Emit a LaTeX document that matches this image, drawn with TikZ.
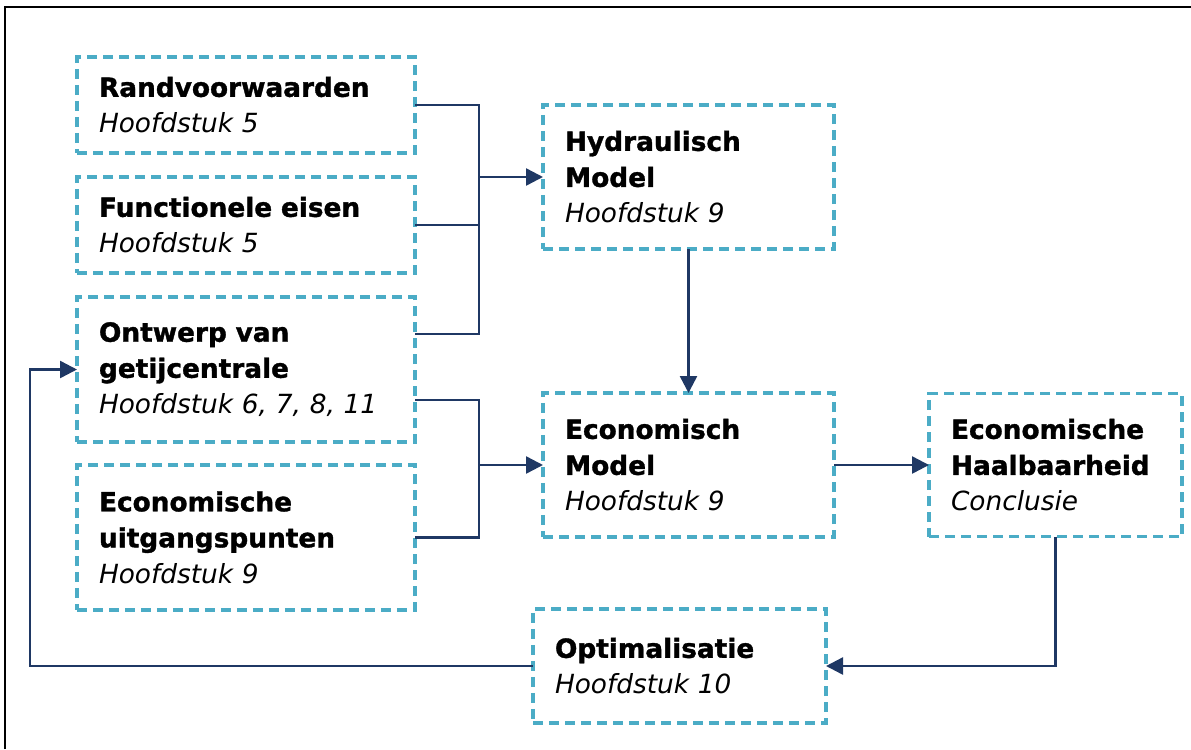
\documentclass[tikz,border=0pt]{standalone}
\usepackage{fontspec}
\setmainfont{DejaVu Sans}[BoldFeatures={FakeBold=1.3}]
\usepackage{tikz}
\usetikzlibrary{positioning, arrows.meta}
\usepackage{xcolor}
\definecolor{boxblue}{HTML}{4BACC6}
\definecolor{linknavy}{HTML}{1F3864}

\begin{document}
\begin{tikzpicture}[node distance=0.48cm and 2.56cm, auto]
        % Styles
        \tikzstyle{block} = [rectangle, draw=boxblue, line width=2pt, dash pattern=on 0.2cm off 0.12cm, align=left, inner xsep=0.44cm, inner ysep=0.1cm, outer sep=0pt, font=\fontsize{15pt}{20.5pt}\selectfont]
        \tikzstyle{wide} = [block, text width=5.88cm]
        \tikzstyle{mid} = [block, text width=4.94cm, minimum height=2.88cm]
        \tikzstyle{line} = [linknavy, line width=1.4pt]
        \tikzstyle{arrow} = [line, -{Triangle[length=0.34cm, width=0.34cm]}]
        \tikzstyle{frame} = [black, line width=1.4pt]

        \useasboundingbox (0,0) rectangle (23.82,-14.98);
        \draw [frame] (0.1,-14.98) |- (23.82,-0.14);

        % Nodes
        \node (rand) [wide, minimum height=1.92cm, anchor=north west] at (1.54,-1.14) {\textbf{Randvoorwaarden}\\\textit{Hoofdstuk 5}};
        \node (func) [wide, minimum height=1.92cm, below=of rand] {\textbf{Functionele eisen}\\\textit{Hoofdstuk 5}};
        \node (ontwerp) [wide, minimum height=2.9cm, below=of func] {\textbf{Ontwerp van}\\\textbf{getijcentrale}\\\textit{Hoofdstuk 6, 7, 8, 11}};
        \node (uitgang) [wide, minimum height=2.9cm, below=0.46cm of ontwerp] {\textbf{Economische}\\\textbf{uitgangspunten}\\\textit{Hoofdstuk 9}};
        \node (hydro) [mid, right=of rand.north east, anchor=north west, yshift=-0.96cm] {\textbf{Hydraulisch}\\\textbf{Model}\\\textit{Hoofdstuk 9}\\[0.1cm]};
        \node (econ) [mid, below=2.88cm of hydro] {\textbf{Economisch}\\\textbf{Model}\\\textit{Hoofdstuk 9}\\[0.1cm]};
        \node (haal) [block, text width=4.18cm, minimum height=2.86cm, right=1.9cm of econ] {\textbf{Economische}\\\textbf{Haalbaarheid}\\\textit{Conclusie}\\[0.1cm]};
        \node (optim) [block, text width=4.98cm, minimum height=2.28cm, below=1.44cm of econ, xshift=-0.18cm] {\textbf{Optimalisatie}\\\textit{Hoofdstuk 10}\\[0.1cm]};

        \coordinate (jtop) at ([xshift=1.28cm]rand.east);
        \coordinate (jbot) at ([xshift=1.28cm]uitgang.east);
        \coordinate (back) at ([xshift=-0.94cm]ontwerp.west);

        % Paths
        \draw [line] (rand.east) -- (jtop) |- ([yshift=0.71cm]ontwerp.east);
        \draw [line] (func.east) -- (func.east -| jtop);
        \draw [arrow] (jtop |- hydro.west) -- (hydro.west);
        \draw [line] ([yshift=-0.61cm]ontwerp.east) -| (jbot) -- (uitgang.east);
        \draw [arrow] (jbot |- econ.west) -- (econ.west);
        \draw [arrow] (hydro) -- (econ);
        \draw [arrow] (econ) -- (haal);
        \draw [arrow] (haal.south) |- (optim.east);
        \draw [arrow] (optim.west) -| (back) -- (ontwerp.west);

\end{tikzpicture}
\end{document}
